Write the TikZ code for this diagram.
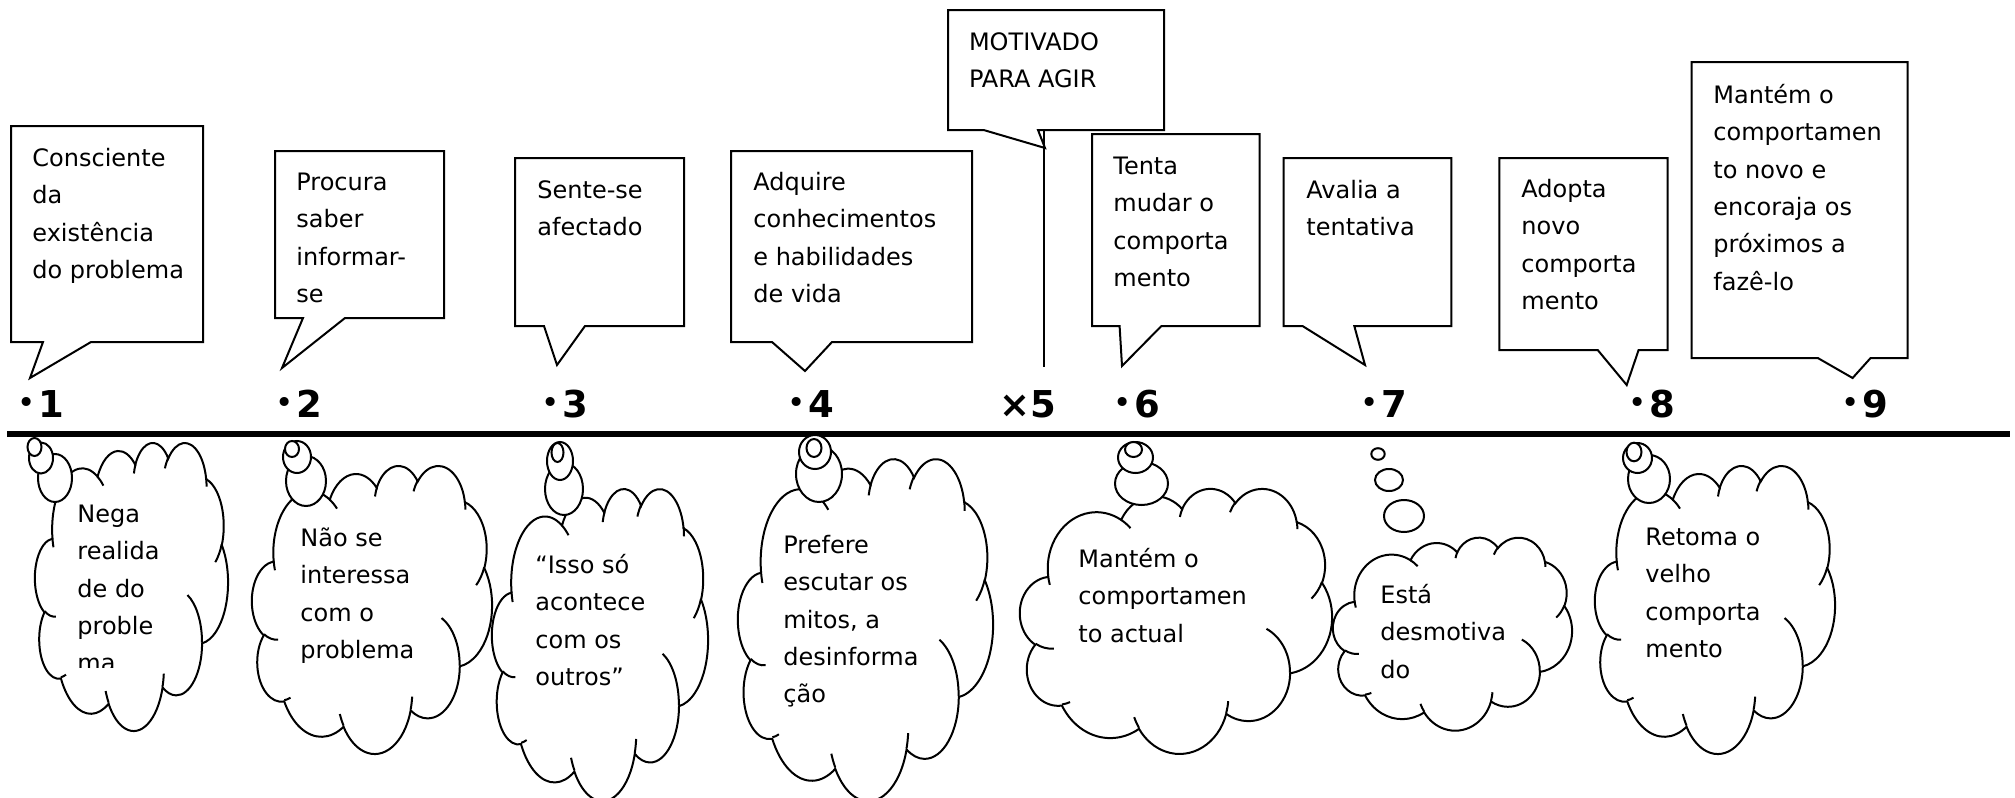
\documentclass[tikz,border=0pt]{standalone}
\usepackage{fontspec}
\setmainfont{DejaVu Sans}
% arc given as in DrawingML: wR hR stAng swAng (visual angles, degrees)
\newcommand\oarc[4]{arc[start angle={atan2((#1)*sin(#3),(#2)*cos(#3))},
  delta angle={mod(atan2((#1)*sin((#3)+(#4)),(#2)*cos((#3)+(#4)))-atan2((#1)*sin(#3),(#2)*cos(#3))+720,360)},
  x radius={(#1)*\sX}, y radius={(#2)*\sY}]}
\newcommand\wcloud[4]{%
  \pgfmathsetmacro\cX{#1}\pgfmathsetmacro\cY{#2}%
  \pgfmathsetmacro\sX{(#3)/432}\pgfmathsetmacro\sY{(#4)/432}%
  \draw[cl,fill=white] ({\cX+39.00*\sX},{\cY+143.70*\sY})
    \oarc{67.53}{91.90}{-190.487483}{123.780533}
    \oarc{53.33}{72.67}{-144.102383}{89.945233}
    \oarc{43.65}{59.45}{-145.807917}{99.723017}
    \oarc{48.57}{65.95}{-130.986067}{117.241733}
    \oarc{53.33}{72.73}{-78.708883}{109.026917}
    \oarc{67.75}{92.20}{-46.26725}{130.269}
    \oarc{57.85}{78.67}{0.625017}{114.033333}
    \oarc{67.52}{92.15}{22.4516}{115.17255}
    \oarc{77.20}{105.43}{66.242633}{75.711017}
    \oarc{43.60}{59.18}{-274.942083}{146.735567}
    \oarc{43.45}{59.45}{-246.8285}{152.51885}
    -- cycle;
  \draw[cl] ({\cX+46.93*\sX},{\cY+261.77*\sY}) \oarc{43.45}{59.45}{86.742}{26.4295}
    ({\cX+69.28*\sX},{\cY+348.99*\sY}) \oarc{43.60}{59.18}{73.610467}{11.447467}
    ({\cX+164.78*\sX},{\cY+390.90*\sY}) \oarc{67.52}{92.15}{137.62415}{14.0811}
    ({\cX+288.27*\sX},{\cY+347.51*\sY}) \oarc{67.52}{92.15}{6.453267}{15.99835}
    ({\cX+341.29*\sX},{\cY+229.54*\sY}) \oarc{57.85}{78.67}{-70.29235}{70.917367}
    ({\cX+417.98*\sX},{\cY+153.54*\sY}) \oarc{53.33}{72.73}{30.318033}{27.7515}
    ({\cX+383.24*\sX},{\cY+54.26*\sY}) \oarc{48.57}{65.95}{-13.744333}{14.8589}
    ({\cX+290.78*\sX},{\cY+39.52*\sY}) \oarc{48.57}{65.95}{-149.18145}{18.195367}
    ({\cX+221.41*\sX},{\cY+47.20*\sY}) \oarc{43.65}{59.45}{-163.494267}{17.68635}
    ({\cX+140.00*\sX},{\cY+51.92*\sY}) \oarc{67.53}{91.90}{-66.70695}{12.31935}
    ({\cX+41.27*\sX},{\cY+157.89*\sY}) \oarc{67.53}{91.90}{157.65435}{11.858167};
}
\newcommand\bub[4]{\draw[cl,fill=white] (#1,#2) ellipse [x radius=#3, y radius=#4];}
\newcommand\nb[1]{{\mdseries\fontsize{15.5}{15.5}\selectfont\raisebox{2pt}{•}}\hspace{1.5pt}#1}
\begin{document}
\begin{tikzpicture}[x=0.5pt,y=-0.5pt,
  box/.style={draw=black, line width=1pt, fill=white, line join=miter},
  cl/.style={draw=black, line width=1pt},
  txt/.style={font=\fontsize{12}{18.7}\selectfont, align=left, inner sep=0pt, anchor=north west},
  num/.style={font=\fontsize{18.5}{20}\selectfont\bfseries, inner sep=0pt, anchor=base west}]
\useasboundingbox (0,0) rectangle (2015,798);
\clip (0,0) rectangle (2015,798);
\fill[white] (0,0) rectangle (2015,798);

% timeline
\coordinate (L0) at (7,434);
\coordinate (L1) at (2010,434);
\draw[line width=3pt] (L0) -- (L1);

% callouts above the line
\draw[box] (11,126) -- (203,126) -- (203,342) -- (91,342) -- (30,378) -- (43,342) -- (11,342) -- cycle;
\draw[box] (275,151) -- (444,151) -- (444,318) -- (345,318) -- (282,368) -- (303,318) -- (275,318) -- cycle;
\draw[box] (515,158) -- (684,158) -- (684,326) -- (585,326) -- (557,365) -- (544,326) -- (515,326) -- cycle;
\draw[box] (731,151) -- (972,151) -- (972,342) -- (832,342) -- (805,371) -- (772,342) -- (731,342) -- cycle;
\draw[box] (948,10) -- (1164,10) -- (1164,130) -- (1038,130) -- (1045,148) -- (983.6,130) -- (948,130) -- cycle;
\coordinate (v5a) at (1044,131);
\coordinate (v5b) at (1044,367);
\draw[cl] (v5a) -- (v5b);
\draw[box] (1092,134) -- (1259.6,134) -- (1259.6,326) -- (1161.4,326) -- (1122,366) -- (1119.6,326) -- (1092,326) -- cycle;
\draw[box] (1283.6,158) -- (1451.4,158) -- (1451.4,326) -- (1354.3,326) -- (1365,365) -- (1302.5,326) -- (1283.6,326) -- cycle;
\draw[box] (1499.4,158) -- (1667.6,158) -- (1667.6,350) -- (1638.6,350) -- (1626.7,385) -- (1597.7,350) -- (1499.4,350) -- cycle;
\draw[box] (1691.5,62) -- (1907.5,62) -- (1907.5,358) -- (1870.6,358) -- (1852.6,378) -- (1817.8,358) -- (1691.5,358) -- cycle;

\node[txt] (t1) at (32,139.8) {\strut Consciente\\da\\existência\\do problema};
\node[txt] (t2) at (296,163.8) {\strut Procura\\saber\\informar-\\se};
\node[txt] (t3) at (537,171.8) {\strut Sente-se\\afectado};
\node[txt] (t4) at (753,163.8) {\strut Adquire\\conhecimentos\\e habilidades\\de vida};
\node[txt] (t5) at (968.6,23.8) {\strut MOTIVADO\\PARA AGIR};
\node[txt] (t6) at (1113,147.8) {\strut Tenta\\mudar o\\comporta\\mento};
\node[txt] (t7) at (1306,171.8) {\strut Avalia a\\tentativa};
\node[txt] (t8) at (1521,170.8) {\strut Adopta\\novo\\comporta\\mento};
\node[txt] (t9) at (1713,76.8) {\strut Mantém o\\comportamen\\to novo e\\encoraja os\\próximos a\\fazê-lo};

% stage numbers
\node[num] (n1) at (17,417) {\nb{1}};
\node[num] (n2) at (275,417) {\nb{2}};
\node[num] (n3) at (541,417) {\nb{3}};
\node[num] (n4) at (787,417) {\nb{4}};
\node[num] (n5) at (999,417) {×5};
\node[num] (n6) at (1113,417) {\nb{6}};
\node[num] (n7) at (1360,417) {\nb{7}};
\node[num] (n8) at (1628,417) {\nb{8}};
\node[num] (n9) at (1841,417) {\nb{9}};

% thought clouds below the line
\wcloud{35}{442}{193}{288}
\bub{55}{478}{17}{24}\bub{41}{458}{12}{15.5}\bub{34.5}{447}{7}{9}
\wcloud{252}{465}{240}{288}
\bub{306}{481}{20}{25}\bub{297}{457}{14}{16}\bub{292}{449}{7}{8}
\wcloud{492}{488}{216}{312}
\bub{564}{489}{19}{26}\bub{560}{461}{13}{19}\bub{557.5}{452.5}{6}{9.5}
\wcloud{738}{458}{255}{342}
\bub{819}{474}{23}{28}\bub{815}{452}{16}{17}\bub{814}{448}{7.5}{9}
\wcloud{1020}{488}{312}{265}
\bub{1141.5}{483.5}{26.5}{21.5}\bub{1135.5}{457.5}{17.5}{15.5}\bub{1133.5}{449.5}{8.5}{7.5}
\wcloud{1333}{537}{239}{193}
\bub{1404}{516}{20}{16}\bub{1389}{480}{14}{11}\bub{1378}{454}{6.7}{5.8}
\wcloud{1595}{465}{240}{288}
\bub{1649}{479}{21}{24}\bub{1637.5}{458}{14.5}{15}\bub{1634}{452}{7.5}{9.3}

\begin{scope}
\clip (60,480) rectangle (230,667);
\node[txt] (k1) at (77,495.8) {\strut Nega\\realida\\de do\\proble\\ma};
\end{scope}
\node[txt] (k2) at (300,519.8) {\strut Não se\\interessa\\com o\\problema};
\node[txt] (k3) at (535,546.8) {\strut “Isso só\\acontece\\com os\\outros”};
\node[txt] (k4) at (783,526.8) {\strut Prefere\\escutar os\\mitos, a\\desinforma\\ção};
\node[txt] (k5) at (1078,540.8) {\strut Mantém o\\comportamen\\to actual};
\node[txt] (k6) at (1380,576.8) {\strut Está\\desmotiva\\do};
\node[txt] (k7) at (1645,518.8) {\strut Retoma o\\velho\\comporta\\mento};
\end{tikzpicture}
\end{document}
